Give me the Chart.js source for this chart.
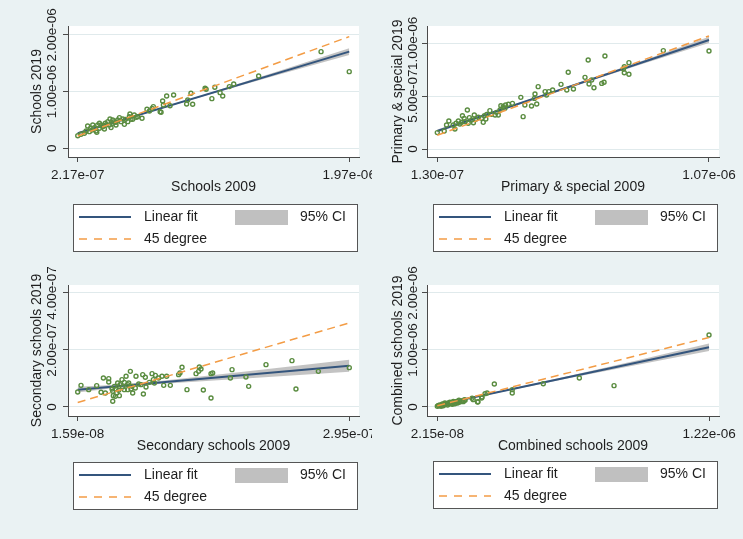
<!DOCTYPE html>
<html>
<head>
<meta charset="utf-8">
<script src="https://cdn.jsdelivr.net/npm/chart.js@4.4.0/dist/chart.umd.min.js"></script>
<style>
  body { margin: 0; background: #eaf2f3; }
  #wrap { position: relative; width: 743px; height: 539px; background: #eaf2f3; overflow: hidden; }
  canvas { position: absolute; }
</style>
</head>
<body>
<div id="wrap">
  <canvas id="schools" width="372" height="260" style="left:0;top:0"></canvas>
  <canvas id="primary" width="371" height="260" style="left:372px;top:0"></canvas>
  <canvas id="secondary" width="372" height="279" style="left:0;top:260px"></canvas>
  <canvas id="combined" width="371" height="279" style="left:372px;top:260px"></canvas>
</div>
<script>
const legendLabels = ["Linear fit", "95% CI", "45 degree"];

// Schools (all)
const schools2009 = [1.788e-6, 1.970e-6, 1.385e-6, 1.224e-6, 1.196e-6, 1.153e-6, 1.136e-6, 1.102e-6, 1.083e-6, 1.046e-6,
  1.039e-6, 0.959e-6, 0.948e-6, 0.927e-6, 0.920e-6, 0.836e-6, 0.791e-6, 0.765e-6, 0.770e-6, 0.813e-6,
  0.749e-6, 0.755e-6, 0.705e-6, 0.697e-6, 0.664e-6, 0.680e-6, 0.632e-6, 0.604e-6, 0.582e-6, 0.554e-6,
  0.550e-6, 0.561e-6, 0.525e-6, 0.518e-6, 0.486e-6, 0.497e-6, 0.475e-6, 0.464e-6, 0.454e-6, 0.443e-6,
  0.422e-6, 0.400e-6, 0.378e-6, 0.357e-6, 0.346e-6, 0.335e-6, 0.314e-6, 0.309e-6, 0.281e-6, 0.292e-6,
  0.271e-6, 0.260e-6, 0.238e-6, 0.217e-6, 0.411e-6, 0.432e-6, 0.389e-6, 0.368e-6, 0.324e-6, 0.443e-6,
  0.572e-6, 0.594e-6, 0.508e-6, 0.464e-6, 0.340e-6, 0.300e-6, 0.357e-6, 0.395e-6, 0.425e-6, 0.540e-6];
const schools2019 = [1.705e-6, 1.352e-6, 1.276e-6, 1.135e-6, 1.088e-6, 0.923e-6, 0.982e-6, 1.076e-6, 0.876e-6, 1.041e-6,
  1.058e-6, 0.776e-6, 0.970e-6, 0.852e-6, 0.782e-6, 0.941e-6, 0.923e-6, 0.835e-6, 0.764e-6, 0.752e-6,
  0.647e-6, 0.635e-6, 0.735e-6, 0.705e-6, 0.688e-6, 0.658e-6, 0.529e-6, 0.558e-6, 0.588e-6, 0.606e-6,
  0.558e-6, 0.511e-6, 0.511e-6, 0.423e-6, 0.541e-6, 0.470e-6, 0.500e-6, 0.459e-6, 0.470e-6, 0.441e-6,
  0.412e-6, 0.412e-6, 0.382e-6, 0.353e-6, 0.412e-6, 0.306e-6, 0.412e-6, 0.323e-6, 0.394e-6, 0.294e-6,
  0.306e-6, 0.265e-6, 0.247e-6, 0.223e-6, 0.470e-6, 0.365e-6, 0.341e-6, 0.412e-6, 0.365e-6, 0.500e-6,
  0.511e-6, 0.547e-6, 0.517e-6, 0.412e-6, 0.282e-6, 0.353e-6, 0.441e-6, 0.441e-6, 0.517e-6, 0.470e-6];
const schoolsXTicks = [2.17e-7, 1.97e-6];
const schoolsYTicks = [0, 1e-6, 2e-6];
const schoolsFitY = [0.265e-6, 1.705e-6];
const schoolsCiX = [0.217e-6, 0.6e-6, 1.0e-6, 1.5e-6, 1.97e-6];
const schoolsCiLow = [0.245e-6, 0.572e-6, 0.896e-6, 1.289e-6, 1.645e-6];
const schoolsCiHigh = [0.285e-6, 0.588e-6, 0.920e-6, 1.349e-6, 1.765e-6];

// Primary & special
const primary2009 = [1.070e-6, 0.912e-6, 0.710e-6, 0.652e-6, 0.793e-6, 0.777e-6, 0.774e-6, 0.777e-6, 0.793e-6, 0.583e-6,
  0.641e-6, 0.664e-6, 0.655e-6, 0.672e-6, 0.699e-6, 0.707e-6, 0.601e-6, 0.578e-6, 0.558e-6, 0.529e-6,
  0.516e-6, 0.508e-6, 0.503e-6, 0.479e-6, 0.468e-6, 0.466e-6, 0.474e-6, 0.456e-6, 0.419e-6, 0.433e-6,
  0.427e-6, 0.390e-6, 0.376e-6, 0.366e-6, 0.358e-6, 0.350e-6, 0.347e-6, 0.335e-6, 0.330e-6, 0.312e-6,
  0.301e-6, 0.293e-6, 0.283e-6, 0.272e-6, 0.263e-6, 0.255e-6, 0.249e-6, 0.241e-6, 0.234e-6, 0.226e-6,
  0.217e-6, 0.214e-6, 0.208e-6, 0.203e-6, 0.195e-6, 0.185e-6, 0.170e-6, 0.162e-6, 0.191e-6, 0.154e-6,
  0.130e-6, 0.289e-6, 0.318e-6, 0.341e-6, 0.237e-6, 0.223e-6, 0.258e-6, 0.298e-6, 0.364e-6];
const primary2019 = [0.927e-6, 0.931e-6, 0.880e-6, 0.842e-6, 0.817e-6, 0.779e-6, 0.757e-6, 0.722e-6, 0.707e-6, 0.726e-6,
  0.678e-6, 0.653e-6, 0.615e-6, 0.580e-6, 0.621e-6, 0.631e-6, 0.568e-6, 0.558e-6, 0.612e-6, 0.558e-6,
  0.543e-6, 0.511e-6, 0.543e-6, 0.590e-6, 0.520e-6, 0.479e-6, 0.426e-6, 0.407e-6, 0.489e-6, 0.416e-6,
  0.306e-6, 0.432e-6, 0.423e-6, 0.416e-6, 0.401e-6, 0.410e-6, 0.369e-6, 0.347e-6, 0.322e-6, 0.363e-6,
  0.328e-6, 0.315e-6, 0.290e-6, 0.300e-6, 0.281e-6, 0.249e-6, 0.274e-6, 0.297e-6, 0.369e-6, 0.259e-6,
  0.315e-6, 0.252e-6, 0.237e-6, 0.265e-6, 0.243e-6, 0.227e-6, 0.265e-6, 0.227e-6, 0.189e-6, 0.170e-6,
  0.155e-6, 0.252e-6, 0.328e-6, 0.322e-6, 0.243e-6, 0.290e-6, 0.322e-6, 0.284e-6, 0.385e-6];
const primaryXTicks = [1.30e-7, 1.07e-6];
const primaryYTicks = [0, 5e-7, 1e-6];
const primaryFitY = [0.170e-6, 1.032e-6];
const primaryCiX = [0.13e-6, 0.4e-6, 0.6e-6, 0.85e-6, 1.07e-6];
const primaryCiLow = [0.155e-6, 0.409e-6, 0.592e-6, 0.815e-6, 1.002e-6];
const primaryCiHigh = [0.185e-6, 0.427e-6, 0.610e-6, 0.845e-6, 1.062e-6];

// Secondary schools
const secondary2009 = [2.950e-7, 2.632e-7, 2.361e-7, 2.402e-7, 2.094e-7, 1.916e-7, 1.888e-7, 1.745e-7, 1.728e-7, 1.546e-7,
  1.529e-7, 1.529e-7, 1.450e-7, 1.426e-7, 1.409e-7, 1.402e-7, 1.375e-7, 1.282e-7, 1.231e-7, 1.210e-7,
  1.196e-7, 1.111e-7, 1.073e-7, 1.043e-7, 1.025e-7, 0.991e-7, 0.957e-7, 0.923e-7, 0.936e-7, 0.895e-7,
  0.861e-7, 0.854e-7, 0.827e-7, 0.834e-7, 0.786e-7, 0.758e-7, 0.751e-7, 0.724e-7, 0.717e-7, 0.700e-7,
  0.683e-7, 0.673e-7, 0.656e-7, 0.638e-7, 0.621e-7, 0.614e-7, 0.594e-7, 0.580e-7, 0.570e-7, 0.560e-7,
  0.553e-7, 0.536e-7, 0.525e-7, 0.519e-7, 0.519e-7, 0.512e-7, 0.478e-7, 0.478e-7, 0.423e-7, 0.443e-7,
  0.399e-7, 0.354e-7, 0.272e-7, 0.193e-7, 0.159e-7, 0.587e-7, 0.638e-7, 0.707e-7, 0.673e-7, 0.810e-7,
  0.947e-7, 0.546e-7];
const secondary2019 = [1.380e-7, 1.251e-7, 1.626e-7, 0.632e-7, 1.485e-7, 0.725e-7, 1.053e-7, 1.310e-7, 1.018e-7, 1.193e-7,
  1.170e-7, 0.316e-7, 0.596e-7, 1.333e-7, 1.404e-7, 1.251e-7, 1.170e-7, 0.608e-7, 1.392e-7, 1.193e-7,
  1.135e-7, 0.760e-7, 1.076e-7, 0.760e-7, 1.076e-7, 1.018e-7, 1.111e-7, 1.170e-7, 0.959e-7, 0.865e-7,
  0.702e-7, 1.041e-7, 1.135e-7, 0.456e-7, 0.807e-7, 1.076e-7, 0.667e-7, 0.491e-7, 0.725e-7, 1.251e-7,
  0.842e-7, 0.608e-7, 1.076e-7, 0.865e-7, 0.702e-7, 0.959e-7, 0.784e-7, 0.585e-7, 0.842e-7, 0.491e-7,
  0.632e-7, 0.725e-7, 0.398e-7, 0.199e-7, 0.550e-7, 0.632e-7, 0.877e-7, 0.994e-7, 1.018e-7, 0.491e-7,
  0.515e-7, 0.749e-7, 0.608e-7, 0.760e-7, 0.526e-7, 0.398e-7, 0.608e-7, 0.632e-7, 0.784e-7, 0.784e-7,
  0.842e-7, 0.374e-7];
const secondaryXTicks = [1.59e-8, 2.95e-7];
const secondaryYTicks = [0, 2e-7, 4e-7];
const secondaryFitY = [0.608e-7, 1.450e-7];
const secondaryCiX = [0.159e-7, 0.6e-7, 1.0e-7, 2.0e-7, 2.95e-7];
const secondaryCiLow = [0.51e-7, 0.69e-7, 0.81e-7, 1.03e-7, 1.24e-7];
const secondaryCiHigh = [0.71e-7, 0.79e-7, 0.91e-7, 1.29e-7, 1.66e-7];

// Combined schools
const combined2009 = [1.220e-6, 0.801e-6, 0.648e-6, 0.489e-6, 0.352e-6, 0.352e-6, 0.273e-6, 0.232e-6, 0.217e-6, 0.199e-6,
  0.180e-6, 0.144e-6, 0.129e-6, 0.114e-6, 0.107e-6, 0.097e-6, 0.085e-6, 0.073e-6, 0.063e-6, 0.052e-6,
  0.041e-6, 0.029e-6, 0.0215e-6, 0.033e-6, 0.048e-6, 0.058e-6, 0.067e-6, 0.077e-6, 0.088e-6, 0.099e-6,
  0.111e-6, 0.121e-6, 0.136e-6, 0.141e-6, 0.092e-6, 0.082e-6, 0.055e-6, 0.038e-6, 0.026e-6, 0.044e-6,
  0.070e-6, 0.102e-6, 0.117e-6, 0.132e-6, 0.175e-6, 0.201e-6, 0.219e-6, 0.241e-6];
const combined2019 = [1.263e-6, 0.374e-6, 0.509e-6, 0.409e-6, 0.246e-6, 0.304e-6, 0.404e-6, 0.234e-6, 0.158e-6, 0.088e-6,
  0.129e-6, 0.117e-6, 0.099e-6, 0.082e-6, 0.099e-6, 0.082e-6, 0.070e-6, 0.058e-6, 0.053e-6, 0.041e-6,
  0.029e-6, 0.023e-6, 0.012e-6, 0.035e-6, 0.023e-6, 0.058e-6, 0.035e-6, 0.082e-6, 0.047e-6, 0.058e-6,
  0.070e-6, 0.088e-6, 0.094e-6, 0.129e-6, 0.099e-6, 0.058e-6, 0.070e-6, 0.012e-6, 0.029e-6, 0.053e-6,
  0.070e-6, 0.094e-6, 0.117e-6, 0.111e-6, 0.153e-6, 0.093e-6, 0.175e-6, 0.245e-6];
const combinedXTicks = [2.15e-8, 1.22e-6];
const combinedYTicks = [0, 1e-6, 2e-6];
const combinedFitY = [0.035e-6, 1.047e-6];
const combinedCiX = [0.0215e-6, 0.3e-6, 0.6e-6, 0.9e-6, 1.22e-6];
const combinedCiLow = [0.025e-6, 0.26e-6, 0.504e-6, 0.737e-6, 0.982e-6];
const combinedCiHigh = [0.045e-6, 0.28e-6, 0.544e-6, 0.817e-6, 1.112e-6];

const pointColor = "#5a8c40";
const fitColor = "#34557d";
const diagColor = "#f39c45";
const ciFill = "rgba(175,175,175,0.75)";
const legendGray = "#c0c0c0";
const textColor = "#1e1e1e";
const axisColor = "#4a4a4a";
const gridColor = "#e0eaec";

Chart.defaults.font.family = "'Liberation Sans', Arial, sans-serif";
Chart.defaults.color = textColor;

// Stata-style number labels: 0, 2.17e-07 ...
function stataNum(v) {
  if (v === 0) return "0";
  return v.toExponential(2).replace(/e([+-])(\d)$/, "e$10$2");
}

function pairs(xs, ys) {
  return xs.map((x, i) => ({ x: x, y: ys[i] }));
}

const plotBackground = {
  id: "plotBackground",
  beforeDraw(chart) {
    const a = chart.chartArea;
    chart.ctx.save();
    chart.ctx.fillStyle = "#ffffff";
    chart.ctx.fillRect(a.left, a.top, a.right - a.left, a.bottom - a.top);
    chart.ctx.restore();
  }
};

// Legend box drawn under each plot, laid out like the Stata legend
const boxLegend = {
  id: "boxLegend",
  afterDraw(chart, args, opts) {
    const ctx = chart.ctx;
    const x = opts.x, y = opts.y;
    ctx.save();
    ctx.fillStyle = "#ffffff";
    ctx.fillRect(x, y, 284, 47);
    ctx.strokeStyle = "#555555";
    ctx.lineWidth = 1;
    ctx.strokeRect(x + 0.5, y + 0.5, 284, 47);

    ctx.lineWidth = 2;
    ctx.strokeStyle = fitColor;
    ctx.beginPath();
    ctx.moveTo(x + 6, y + 13);
    ctx.lineTo(x + 58, y + 13);
    ctx.stroke();

    ctx.fillStyle = legendGray;
    ctx.fillRect(x + 162, y + 6, 53, 15);

    ctx.strokeStyle = diagColor;
    ctx.lineWidth = 1.5;
    ctx.setLineDash([8, 7]);
    ctx.beginPath();
    ctx.moveTo(x + 6, y + 35);
    ctx.lineTo(x + 58, y + 35);
    ctx.stroke();
    ctx.setLineDash([]);

    ctx.fillStyle = textColor;
    ctx.font = "14px 'Liberation Sans', Arial, sans-serif";
    ctx.textBaseline = "middle";
    ctx.textAlign = "left";
    ctx.fillText(legendLabels[0], x + 71, y + 13);
    ctx.fillText(legendLabels[1], x + 227, y + 13);
    ctx.fillText(legendLabels[2], x + 71, y + 35);
    ctx.restore();
  }
};

function makePanel(p) {
  const lo = p.xTicks[0], hi = p.xTicks[1];
  new Chart(document.getElementById(p.id), {
    type: "scatter",
    data: {
      datasets: [
        {
          type: "line", data: pairs(p.ciX, p.ciLow), borderWidth: 0, pointRadius: 0,
          fill: false, order: 6
        },
        {
          type: "line", data: pairs(p.ciX, p.ciHigh), borderWidth: 0, pointRadius: 0,
          fill: "-1", backgroundColor: ciFill, order: 5
        },
        {
          type: "line", data: pairs(p.xTicks, p.fitY), borderColor: fitColor, borderWidth: 2,
          pointRadius: 0, fill: false, order: 4
        },
        {
          data: pairs(p.x, p.y), pointStyle: "circle", pointRadius: 2, borderWidth: 1.4,
          borderColor: pointColor, backgroundColor: "rgba(0,0,0,0)", order: 3
        },
        {
          type: "line", data: pairs([lo, hi], [lo, hi]), borderColor: diagColor, borderWidth: 1.5,
          borderDash: [8, 5], pointRadius: 0, fill: false, order: 2
        }
      ]
    },
    options: {
      responsive: false,
      animation: false,
      layout: { padding: p.pad },
      plugins: {
        legend: { display: false },
        tooltip: { enabled: false },
        boxLegend: { x: p.legendX, y: p.legendY }
      },
      scales: {
        x: {
          type: "linear",
          min: p.xRange[0],
          max: p.xRange[1],
          afterBuildTicks: (s) => { s.ticks = p.xTicks.map(v => ({ value: v })); },
          afterFit: (s) => { s.height = 40; s.paddingLeft = 0; s.paddingRight = 0; },
          ticks: {
            callback: (v) => stataNum(v), autoSkip: false, maxRotation: 0, minRotation: 0,
            padding: 5, font: { size: 13.5 }, color: textColor
          },
          grid: { drawOnChartArea: false, tickLength: 5, tickColor: axisColor },
          border: { color: axisColor, width: 1 },
          title: { display: true, text: p.xTitle, font: { size: 14 }, color: textColor, padding: { top: 0, bottom: 1 } }
        },
        y: {
          type: "linear",
          min: p.yRange[0],
          max: p.yRange[1],
          afterBuildTicks: (s) => { s.ticks = p.yTicks.map(v => ({ value: v })); },
          afterFit: (s) => { s.width = p.axisW; s.paddingTop = 0; s.paddingBottom = 0; },
          ticks: {
            callback: (v) => stataNum(v), minRotation: 90, maxRotation: 90, crossAlign: "center",
            padding: p.yTickPad, font: { size: 13.5 }, color: textColor
          },
          grid: { color: gridColor, tickLength: 5, tickColor: axisColor },
          border: { color: axisColor, width: 1 },
          title: { display: true, text: p.yTitle, font: { size: 14 }, color: textColor, padding: { top: p.yTitlePad, bottom: 0 } }
        }
      }
    },
    plugins: [plotBackground, boxLegend]
  });
}

makePanel({
  id: "schools", xTitle: "Schools 2009", yTitle: "Schools 2019",
  x: schools2009, y: schools2019, xTicks: schoolsXTicks, yTicks: schoolsYTicks,
  fitY: schoolsFitY, ciX: schoolsCiX, ciLow: schoolsCiLow, ciHigh: schoolsCiHigh,
  xRange: [0.154e-6, 2.033e-6], yRange: [-0.153e-6, 2.157e-6],
  axisW: 68, yTickPad: -16, yTitlePad: 29,
  pad: { left: 0, top: 26, right: 13, bottom: 63 }, legendX: 73, legendY: 204
});

makePanel({
  id: "primary", xTitle: "Primary & special 2009", yTitle: "Primary & special 2019",
  x: primary2009, y: primary2019, xTicks: primaryXTicks, yTicks: primaryYTicks,
  fitY: primaryFitY, ciX: primaryCiX, ciLow: primaryCiLow, ciHigh: primaryCiHigh,
  xRange: [0.0944e-6, 1.1046e-6], yRange: [-0.0757e-6, 1.164e-6],
  axisW: 55, yTickPad: -17.5, yTitlePad: 17.4,
  pad: { left: 0, top: 26, right: 24, bottom: 63 }, legendX: 61, legendY: 204
});

makePanel({
  id: "secondary", xTitle: "Secondary schools 2009", yTitle: "Secondary schools 2019",
  x: secondary2009, y: secondary2019, xTicks: secondaryXTicks, yTicks: secondaryYTicks,
  fitY: secondaryFitY, ciX: secondaryCiX, ciLow: secondaryCiLow, ciHigh: secondaryCiHigh,
  xRange: [0.0593e-7, 3.0497e-7], yRange: [-0.316e-7, 4.28e-7],
  axisW: 68, yTickPad: -16, yTitlePad: 29,
  pad: { left: 0, top: 25, right: 13, bottom: 83 }, legendX: 73, legendY: 202
});

makePanel({
  id: "combined", xTitle: "Combined schools 2009", yTitle: "Combined schools 2019",
  x: combined2009, y: combined2019, xTicks: combinedXTicks, yTicks: combinedYTicks,
  fitY: combinedFitY, ciX: combinedCiX, ciLow: combinedCiLow, ciHigh: combinedCiHigh,
  xRange: [-0.024e-6, 1.264e-6], yRange: [-0.158e-6, 2.14e-6],
  axisW: 55, yTickPad: -17.5, yTitlePad: 17.4,
  pad: { left: 0, top: 25, right: 24, bottom: 83 }, legendX: 61, legendY: 201
});
</script>
</body>
</html>
